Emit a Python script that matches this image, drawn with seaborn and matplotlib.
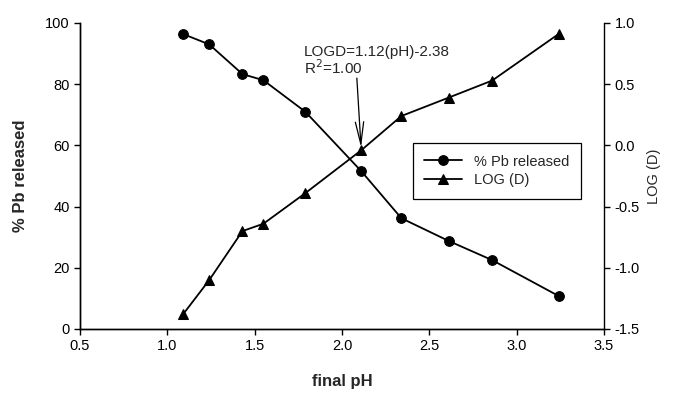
import matplotlib
matplotlib.use("Agg")
import matplotlib.pyplot as plt
import seaborn as sns
import pandas as pd

# Data
final_ph = [1.09, 1.24, 1.43, 1.55, 1.79, 2.11, 2.34, 2.61, 2.86, 3.24]
pb_released = [96.4, 93.0, 83.3, 81.3, 71.0, 51.6, 36.2, 28.8, 22.5, 10.8]
log_d = [-1.38, -1.10, -0.70, -0.64, -0.39, -0.04, 0.24, 0.39, 0.53, 0.91]

x_ticks = [0.5, 1.0, 1.5, 2.0, 2.5, 3.0, 3.5]
y_left_ticks = [0, 20, 40, 60, 80, 100]
y_right_ticks = [-1.5, -1.0, -0.5, 0.0, 0.5, 1.0]

series_labels = ["% Pb released", "LOG (D)"]
annotation_text = "LOGD=1.12(pH)-2.38\nR$^2$=1.00"

df = pd.DataFrame({"pH": final_ph, "pb": pb_released, "logd": log_d})

sns.set_style("ticks")
plt.rcParams["font.family"] = ["Liberation Sans", "DejaVu Sans"]

fig = plt.figure(figsize=(6.76, 3.93), dpi=100)
ax = fig.add_axes([80 / 676, 1 - 329 / 393, 524 / 676, 306 / 393])
ax2 = ax.twinx()

sns.lineplot(data=df, x="pH", y="pb", ax=ax, color="black", marker="o",
             markersize=7, markeredgecolor="black", linewidth=1.3,
             label=series_labels[0], legend=False)
sns.lineplot(data=df, x="pH", y="logd", ax=ax2, color="black", marker="^",
             markersize=7, markeredgecolor="black", linewidth=1.3,
             label=series_labels[1], legend=False)

ax.set_xlim(0.5, 3.5)
ax.set_ylim(0, 100)
ax2.set_ylim(-1.5, 1.0)
ax.set_xticks(x_ticks)
ax.set_xticklabels([f"{v:.1f}" for v in x_ticks])
ax.set_yticks(y_left_ticks)
ax2.set_yticks(y_right_ticks)
ax2.set_yticklabels([f"{v:.1f}" for v in y_right_ticks])

for a in (ax, ax2):
    a.spines["top"].set_visible(False)
    for s in a.spines.values():
        s.set_linewidth(1.0)
        s.set_color("black")
    a.tick_params(labelsize=10.5, colors="black", length=4, width=1.0)
ax.spines["right"].set_visible(False)

ax.set_xlabel("final pH", fontsize=12, fontweight="bold", labelpad=15)
ax.set_ylabel("% Pb released", fontsize=12, fontweight="bold", labelpad=12)
ax2.set_ylabel("LOG (D)", fontsize=10.5, labelpad=5)

# annotation text and vertical arrow to the LOG(D) point at pH ~2.1
ax2.text(1.78, 0.69, annotation_text, fontsize=11, ha="left", va="center",
         linespacing=1.0)
ax2.annotate("", xy=(final_ph[5], log_d[5]), xytext=(2.085, 0.55),
             arrowprops=dict(arrowstyle="->,head_length=1.6,head_width=0.3",
                             color="black", lw=0.9, shrinkA=0, shrinkB=2))

h1, l1 = ax.get_legend_handles_labels()
h2, l2 = ax2.get_legend_handles_labels()
leg = ax2.legend(h1 + h2, l1 + l2, loc="upper left", bbox_to_anchor=(0.621, 0.632),
                 fontsize=10.5, frameon=True, fancybox=False, framealpha=1,
                 edgecolor="black", handlelength=2.6, borderpad=0.8,
                 labelspacing=0.3)
leg.get_frame().set_linewidth(0.9)

fig.savefig("out.png", dpi=100)
